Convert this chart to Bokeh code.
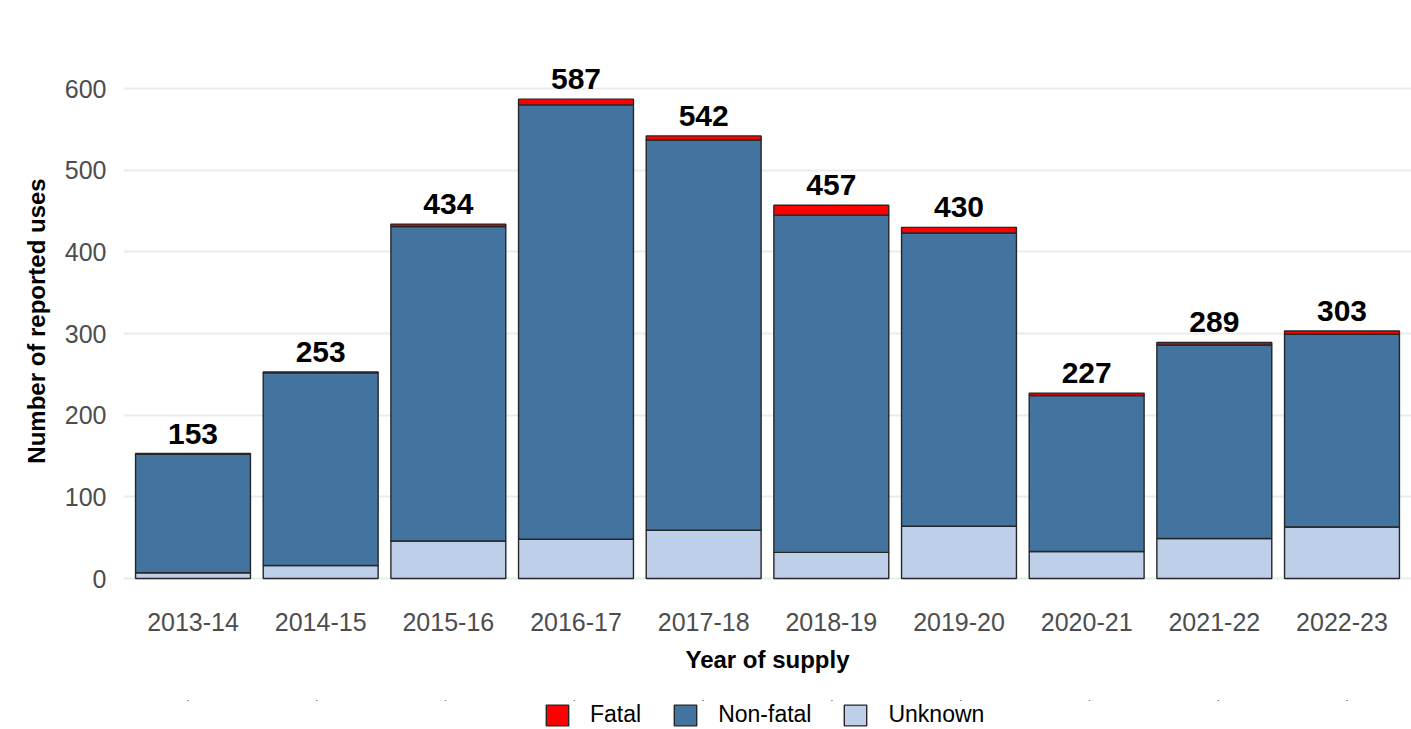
from bokeh.plotting import figure
from bokeh.layouts import column
from bokeh.models import ColumnDataSource, FactorRange, Range1d, Legend, LegendItem, FixedTicker
from bokeh.core.properties import value
from bokeh.embed import file_html
from bokeh.resources import INLINE

years = ["2013-14", "2014-15", "2015-16", "2016-17", "2017-18",
         "2018-19", "2019-20", "2020-21", "2021-22", "2022-23"]
totals = [153, 253, 434, 587, 542, 457, 430, 227, 289, 303]
fatal = [1, 1, 3, 7, 5, 12, 7, 3, 3, 4]
unknown = [7, 16, 46, 48, 59, 32, 64, 33, 49, 63]
nonfatal = [t - f - u for t, f, u in zip(totals, fatal, unknown)]
y_ticks = [0, 100, 200, 300, 400, 500, 600]
series = ["unknown", "nonfatal", "fatal"]
series_labels = ["Unknown", "Non-fatal", "Fatal"]
colors = ["#BED0E9", "#43749F", "#FF0000"]

FONT = "Liberation Sans"

source = ColumnDataSource(dict(
    year=years, total=totals, fatal=fatal, nonfatal=nonfatal, unknown=unknown,
    label=[str(t) for t in totals],
))

p = figure(
    width=1411, height=700,
    x_range=FactorRange(*years, range_padding=0.00888, range_padding_units="percent"),
    y_range=Range1d(-3.67, 634.3),
    output_backend="svg", toolbar_location=None,
    min_border_left=123, min_border_right=0, min_border_top=60, min_border_bottom=119,
)
p.outline_line_color = None
p.background_fill_color = "white"
p.border_fill_color = "white"

p.vbar_stack(series, x="year", width=0.9, source=source,
             fill_color=colors, line_color="#262626", line_width=1.4)

p.text(x="year", y="total", text="label", source=source,
       text_font=value(FONT), text_font_style="bold", text_font_size="30px",
       text_align="center", text_baseline="bottom", text_color="black", y_offset=-10)

# grid
p.xgrid.grid_line_color = None
p.ygrid.grid_line_color = "#EBEBEB"
p.ygrid.grid_line_width = 2
p.ygrid.ticker = FixedTicker(ticks=y_ticks)

# y axis
p.yaxis.ticker = FixedTicker(ticks=y_ticks)
p.yaxis.axis_label = "Number of reported uses"
p.yaxis.axis_label_text_font = FONT
p.yaxis.axis_label_text_font_style = "bold"
p.yaxis.axis_label_text_font_size = "24px"
p.yaxis.axis_label_text_color = "black"
p.yaxis.axis_label_standoff = 12
p.yaxis.major_label_text_font = FONT
p.yaxis.major_label_text_font_size = "25px"
p.yaxis.major_label_text_color = "#4D4D4D"
p.yaxis.major_label_standoff = 17
p.yaxis.axis_line_color = None
p.yaxis.major_tick_line_color = None
p.yaxis.minor_tick_line_color = None
p.yaxis.major_tick_out = 0
p.yaxis.major_tick_in = 0

# x axis
p.xaxis.axis_label = "Year of supply"
p.xaxis.axis_label_text_font = FONT
p.xaxis.axis_label_text_font_style = "bold"
p.xaxis.axis_label_text_font_size = "24px"
p.xaxis.axis_label_text_color = "black"
p.xaxis.axis_label_standoff = 12
p.xaxis.major_label_text_font = FONT
p.xaxis.major_label_text_font_size = "25px"
p.xaxis.major_label_text_color = "#4D4D4D"
p.xaxis.major_label_standoff = 31
p.xaxis.axis_line_color = None
p.xaxis.major_tick_line_color = None
p.xaxis.minor_tick_line_color = None
p.xaxis.major_tick_out = 0
p.xaxis.major_tick_in = 0

# legend strip: its own small figure; its zero-width bar renderers sit far
# outside its y range, so they only supply the legend swatches
lf = figure(
    width=1411, height=29,
    x_range=FactorRange(*years), y_range=Range1d(-2000, -1000),
    output_backend="svg", toolbar_location=None,
    min_border_left=0, min_border_right=0, min_border_top=0, min_border_bottom=0,
)
lf.outline_line_color = None
lf.axis.visible = False
lf.grid.visible = False
lf_r = lf.vbar_stack(series, x="year", width=0, source=source,
                     fill_color=colors, line_color="#262626", line_width=1.4)

legend = Legend(
    items=[LegendItem(label=series_labels[i], renderers=[lf_r[i]]) for i in (2, 1, 0)],
    orientation="horizontal", location=(420, 1),
    glyph_width=28, glyph_height=26, label_standoff=19, spacing=30,
    padding=0, margin=0, border_line_color=None, background_fill_alpha=0,
    label_text_font=FONT, label_text_font_size="23px", label_text_color="black",
    label_height=26,
)
lf.add_layout(legend, "center")

layout = column(p, lf, spacing=0)
open("out.html", "w").write(file_html(layout, INLINE))
